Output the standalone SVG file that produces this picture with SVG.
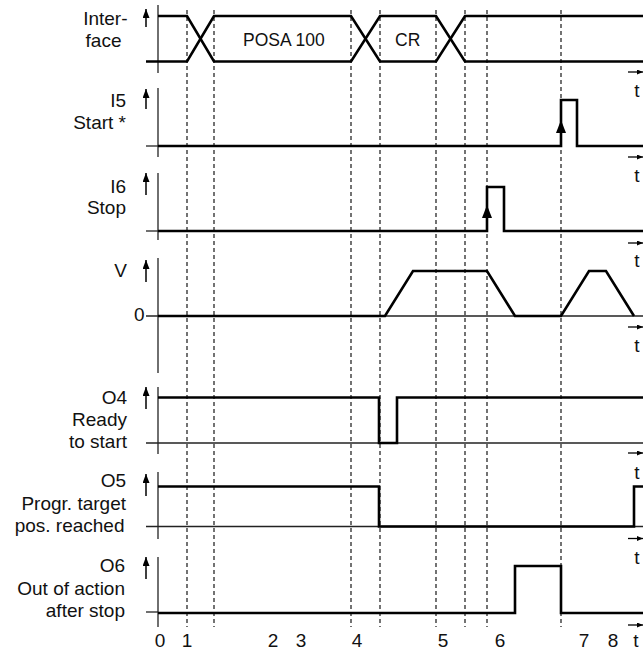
<svg xmlns="http://www.w3.org/2000/svg" width="643" height="655" viewBox="0 0 643 655">
<style>
text{font-family:"Liberation Sans",Arial,sans-serif;font-size:19px;fill:#111}
.lbl{text-anchor:end}
.in{font-size:17.5px}
.num{text-anchor:middle}
.ax{stroke:#222;stroke-width:1.3;fill:none}
.sig{stroke:#000;stroke-width:2.6;fill:none;stroke-linejoin:miter}
.dash{stroke:#000;stroke-width:1.1;stroke-dasharray:4,3;fill:none}
.up{stroke:#000;stroke-width:1.5;marker-end:url(#ah)}
.ta{stroke:#000;stroke-width:1.3;marker-end:url(#ahr)}
</style>
<defs>
<marker id="ah" markerUnits="userSpaceOnUse" markerWidth="12" markerHeight="12" refX="9" refY="3.5" orient="auto">
<path d="M0,0 L9,3.5 L0,7 Z" fill="#000"/>
</marker>
<marker id="ahr" markerUnits="userSpaceOnUse" markerWidth="10" markerHeight="10" refX="6" refY="2.5" orient="auto">
<path d="M0,0 L6,2.5 L0,5 Z" fill="#000"/>
</marker>
</defs>
<rect width="643" height="655" fill="#fff"/>

<g id="dashes">
<line class="dash" x1="187" y1="10" x2="187" y2="627"/>
<line class="dash" x1="214" y1="10" x2="214" y2="627"/>
<line class="dash" x1="351" y1="10" x2="351" y2="627"/>
<line class="dash" x1="380" y1="10" x2="380" y2="627"/>
<line class="dash" x1="436" y1="10" x2="436" y2="627"/>
<line class="dash" x1="465" y1="10" x2="465" y2="627"/>
<line class="dash" x1="487" y1="10" x2="487" y2="627"/>
<line class="dash" x1="561" y1="10" x2="561" y2="627"/>
</g>

<g id="interface">
<text class="lbl" x="127.5" y="25">Inter-</text>
<text class="lbl" x="121.5" y="47">face</text>
<line class="up" x1="146" y1="27" x2="146" y2="9"/>
<line class="ax" x1="158" y1="5" x2="158" y2="73"/>
<path class="sig" d="M158,16 H187 L214,61.5 H351 L380,16 H436 L465,61.5 H643"/>
<path class="sig" d="M146,61.5 H187 L214,16 H351 L380,61.5 H436 L465,16 H643"/>
<text class="in" x="243" y="46">POSA 100</text>
<text class="in" x="395" y="46">CR</text>
<line class="ta" x1="628" y1="72" x2="643" y2="72"/>
<text class="num" x="637" y="97">t</text>
</g>

<g id="i5">
<text class="lbl" x="126" y="107">I5</text>
<text class="lbl" x="126" y="129">Start *</text>
<line class="up" x1="146" y1="109" x2="146" y2="89"/>
<line class="ax" x1="158" y1="88" x2="158" y2="157"/>
<line class="ax" x1="146" y1="146" x2="158" y2="146"/>
<path class="sig" d="M158,146 H561 V100 H577 V146 H643"/>
<path d="M561,120 L556,133 L566,133 Z" fill="#000"/>
<line class="ta" x1="628" y1="157" x2="643" y2="157"/>
<text class="num" x="637" y="182">t</text>
</g>

<g id="i6">
<text class="lbl" x="126" y="193">I6</text>
<text class="lbl" x="126" y="214">Stop</text>
<line class="up" x1="146" y1="195" x2="146" y2="173"/>
<line class="ax" x1="158" y1="173" x2="158" y2="240"/>
<line class="ax" x1="146" y1="231" x2="158" y2="231"/>
<path class="sig" d="M158,231 H487 V187 H504 V231 H643"/>
<path d="M487,205 L482,218 L492,218 Z" fill="#000"/>
<line class="ta" x1="628" y1="243" x2="643" y2="243"/>
<text class="num" x="637" y="267">t</text>
</g>

<g id="v">
<text class="lbl" x="127" y="277">V</text>
<text class="lbl" x="144.5" y="321">0</text>
<line class="up" x1="146" y1="282" x2="146" y2="260"/>
<line class="ax" x1="158" y1="258" x2="158" y2="373"/>
<line class="ax" x1="146" y1="316" x2="643" y2="316"/>
<path class="sig" d="M158,316 H385 L413,271 H487 L515,316 H561 L589,271 H606 L634,316"/>
<line class="ta" x1="628" y1="327" x2="643" y2="327"/>
<text class="num" x="637" y="352">t</text>
</g>

<g id="o4">
<text class="lbl" x="127" y="404">O4</text>
<text class="lbl" x="127" y="426">Ready</text>
<text class="lbl" x="127" y="447.5">to start</text>
<line class="up" x1="146" y1="409" x2="146" y2="387"/>
<line class="ax" x1="158" y1="387" x2="158" y2="454"/>
<line class="ax" x1="146" y1="443" x2="643" y2="443"/>
<path class="sig" d="M158,397.5 H379 V443 H397 V397.5 H643"/>
<line class="ta" x1="628" y1="453" x2="643" y2="453"/>
<text class="num" x="637" y="478.5">t</text>
</g>

<g id="o5">
<text class="lbl" x="126" y="487">O5</text>
<text class="lbl" x="126" y="510">Progr. target</text>
<text class="lbl" x="124.5" y="532">pos. reached</text>
<line class="up" x1="146" y1="496" x2="146" y2="474"/>
<line class="ax" x1="158" y1="472" x2="158" y2="539"/>
<line class="ax" x1="146" y1="526.5" x2="643" y2="526.5"/>
<path class="sig" d="M158,486.5 H379 V526.5 H634 V486.5 H643"/>
<line class="ta" x1="628" y1="538.5" x2="643" y2="538.5"/>
<text class="num" x="637" y="563.5">t</text>
</g>

<g id="o6">
<text class="lbl" x="125" y="572">O6</text>
<text class="lbl" x="125" y="595">Out of action</text>
<text class="lbl" x="125" y="617">after stop</text>
<line class="up" x1="146" y1="579" x2="146" y2="557"/>
<line class="ax" x1="158" y1="557" x2="158" y2="627"/>
<line class="ax" x1="146" y1="612" x2="158" y2="612"/>
<path class="sig" d="M158,613 H515 V566 H561 V613 H643"/>
<line class="ta" x1="628" y1="625" x2="643" y2="625"/>
</g>

<g id="timeaxis">
<text class="num" x="160" y="647">0</text>
<text class="num" x="187" y="647">1</text>
<text class="num" x="273" y="647">2</text>
<text class="num" x="301" y="647">3</text>
<text class="num" x="357" y="647">4</text>
<text class="num" x="443" y="647">5</text>
<text class="num" x="500" y="647">6</text>
<text class="num" x="584" y="647">7</text>
<text class="num" x="613" y="647">8</text>
<text class="num" x="636" y="647">t</text>
</g>
</svg>
